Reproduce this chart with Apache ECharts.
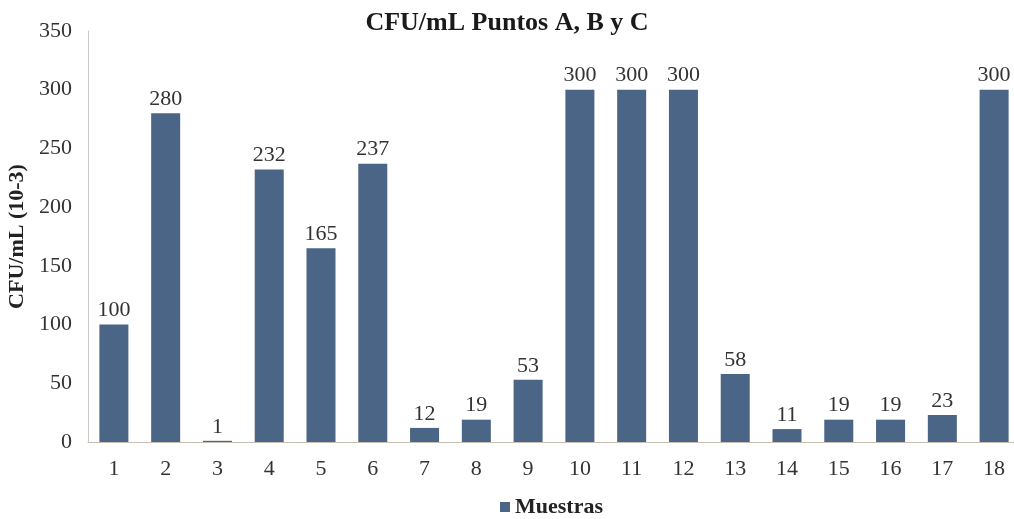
<!DOCTYPE html>
<html>
<head>
<meta charset="utf-8">
<script src="https://cdn.jsdelivr.net/npm/echarts@6/dist/echarts.min.js"></script>
<style>
  html, body { margin: 0; padding: 0; background: #fff; }
  #chart { width: 1014px; height: 519px; }
</style>
</head>
<body>
<div id="chart"></div>
<script>
// Muestras 1–18, CFU/mL (10-3) para los puntos A, B y C
const categories = ['1', '2', '3', '4', '5', '6', '7', '8', '9', '10', '11', '12', '13', '14', '15', '16', '17', '18'];
const muestras = [100, 280, 1, 232, 165, 237, 12, 19, 53, 300, 300, 300, 58, 11, 19, 19, 23, 300];
const yTicks = [0, 50, 100, 150, 200, 250, 300, 350];

const serif = '"Liberation Serif", "DejaVu Serif", serif';
const barColor = '#4a6586';

const chart = echarts.init(document.getElementById('chart'));
chart.setOption({
  animation: false,
  backgroundColor: '#ffffff',
  title: {
    text: 'CFU/mL Puntos A, B y C',
    left: 'center',
    top: 5,
    textStyle: { fontFamily: serif, fontWeight: 'bold', fontSize: 26, color: '#1a1a1a' }
  },
  legend: {
    left: 500,
    top: 496,
    padding: 0,
    icon: 'rect',
    itemWidth: 10,
    itemHeight: 10,
    textStyle: { fontFamily: serif, fontWeight: 'bold', fontSize: 22, color: '#222' },
    data: ['Muestras']
  },
  grid: {
    left: 88,
    top: 31,
    width: 932,
    height: 411,
    containLabel: false,
    outerBoundsMode: 'none'
  },
  xAxis: {
    type: 'category',
    data: categories,
    axisLine: { show: true, lineStyle: { color: '#c8bfb4', width: 1 } },
    axisTick: { show: false },
    axisLabel: { fontFamily: serif, fontSize: 22, color: '#333', margin: 16 }
  },
  yAxis: {
    type: 'value',
    min: yTicks[0],
    max: yTicks[yTicks.length - 1],
    interval: yTicks[1] - yTicks[0],
    name: 'CFU/mL (10-3)',
    nameLocation: 'middle',
    nameGap: 59,
    nameTextStyle: { fontFamily: serif, fontWeight: 'bold', fontSize: 22, color: '#222' },
    axisLine: { show: true, lineStyle: { color: '#c8c8c8', width: 1 } },
    axisTick: { show: false },
    splitLine: { show: false },
    axisLabel: { fontFamily: serif, fontSize: 22, color: '#333', margin: 16 }
  },
  series: [{
    name: 'Muestras',
    type: 'bar',
    data: muestras,
    barWidth: 29,
    itemStyle: { color: barColor },
    label: {
      show: true,
      position: 'top',
      distance: 3,
      fontFamily: serif,
      fontSize: 22,
      color: '#333'
    }
  }]
});
</script>
</body>
</html>
